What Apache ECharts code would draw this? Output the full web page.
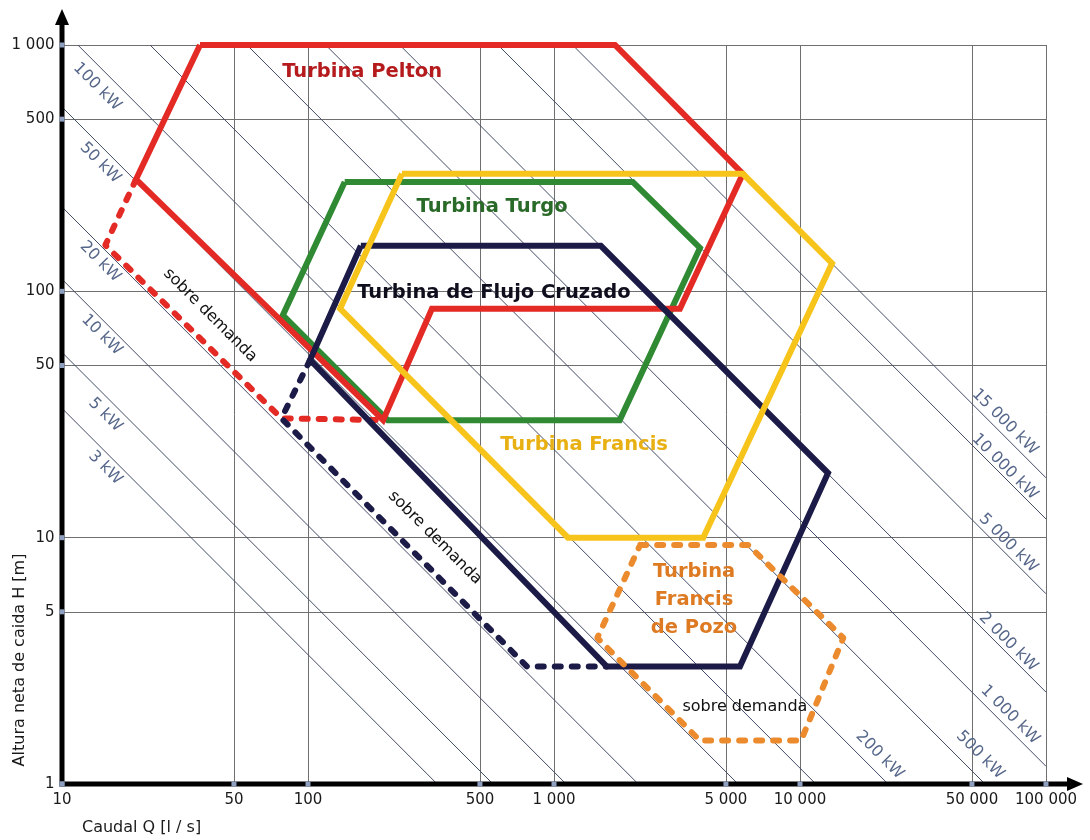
<!DOCTYPE html>
<html>
<head>
<meta charset="utf-8">
<script src="https://cdn.jsdelivr.net/npm/echarts@6/dist/echarts.min.js"></script>
<style>
  html, body { margin: 0; padding: 0; background: #fff; }
  #chart { width: 1090px; height: 840px; }
</style>
</head>
<body>
<div id="chart"></div>
<script>
// Application ranges of small hydro turbines: flow Q (l/s) against net head H (m), log-log scales.
const xTicks = [10, 50, 100, 500, 1000, 5000, 10000, 50000, 100000];
const yTicks = [1, 5, 10, 50, 100, 500, 1000];

// Constant-power lines and their Q·H product (l/s · m)
const powerLabels = ['3 kW', '5 kW', '10 kW', '20 kW', '50 kW', '100 kW', '200 kW', '500 kW',
  '1 000 kW', '2 000 kW', '5 000 kW', '10 000 kW', '15 000 kW'];
const powerQH = [335, 565, 1120, 2200, 5600, 11600, 22800, 56500, 118000, 236000, 592000, 1190000, 1750000];
// [Q, H] where each power label is written
const powerLabelAt = [[15, 19.2], [15, 31.5], [14.5, 66.5], [14.3, 132], [14.3, 332], [13.9, 676],
  [21100, 1.31], [54000, 1.31], [71400, 1.91], [70200, 3.77], [70200, 9.5], [68000, 19.4], [68000, 29.5]];

// Turbine ranges, [Q, H] vertices
const pelton = [[36.4, 1000], [1770, 1000], [5860, 300], [3250, 85], [319, 85], [202, 30], [20, 285], [36.4, 1000]];
const peltonOnDemand = [[20, 285], [15, 154], [78, 30.5], [202, 30]];
const turgo = [[141, 278], [2090, 278], [3920, 150], [1850, 30], [211, 30], [79, 80], [141, 278]];
const francis = [[241, 300], [5860, 300], [13500, 130], [4040, 10], [1140, 10], [135, 85], [241, 300]];
const crossFlow = [[164, 153], [1550, 153], [13000, 18.3], [5700, 3], [1640, 3], [102, 52.7], [164, 153]];
const crossFlowOnDemand = [[102, 52.7], [78, 30.5], [776, 3], [1640, 3]];
const francisPit = [[2240, 9.34], [6150, 9.34], [15000, 3.92], [10100, 1.5], [3920, 1.5], [1500, 3.92], [2240, 9.34]];

const turbineNames = ['Turbina Pelton', 'Turbina Turgo', 'Turbina de Flujo Cruzado', 'Turbina Francis', 'Turbina\nFrancis\nde Pozo'];
const turbineNameAt = [[166, 778], [560, 220], [570, 98.5], [1325, 23.8], [3710, 5.59]];
const onDemandText = 'sobre demanda';
const onDemandAt = [[40, 80], [328, 10], [5970, 2.05]];

const xAxisTitle = 'Caudal Q [l / s]';
const yAxisTitle = 'Altura neta de caida H [m]';

const X_MIN = 10, X_MAX = 100000, Y_MIN = 1, Y_MAX = 1000;
const FONT = '"DejaVu Sans", "Liberation Sans", sans-serif';
const fmt = v => String(v).replace(/\B(?=(\d{3})+(?!\d))/g, ' ');

const COLORS = {
  red: '#e42a25', redText: '#b51b1d',
  green: '#2f8a33', greenText: '#2a6a28',
  yellow: '#f7c41c', yellowText: '#e8b012',
  navy: '#1c1b47', navyText: '#0e0e1c',
  orange: '#ec8b2d', orangeText: '#dd7a22',
  grid: '#6f6f6f', power: '#434c66', powerText: '#56678a', tick: '#8e9fbf'
};

const chart = echarts.init(document.getElementById('chart'), null, { renderer: 'canvas' });

function gridLineData() {
  const v = xTicks.map(x => ({ coords: [[x, Y_MIN], [x, Y_MAX]] }));
  const h = yTicks.map(y => ({ coords: [[X_MIN, y], [X_MAX, y]] }));
  return v.concat(h);
}

// A line of constant Q·H, clipped to the plotted range
function powerLineData() {
  return powerQH.map(qh => {
    const q0 = Math.max(X_MIN, qh / Y_MAX);
    const q1 = Math.min(X_MAX, qh / Y_MIN);
    return { coords: [[q0, qh / q0], [q1, qh / q1]] };
  });
}

function outline(name, data, color, dashed, z) {
  return {
    type: 'line', name, data, z, silent: true, animation: false, clip: false,
    symbol: 'none', showSymbol: false,
    lineStyle: {
      color, width: 6,
      type: dashed ? [6, 11] : 'solid',
      cap: dashed ? 'round' : 'butt',
      join: dashed ? 'round' : 'miter'
    }
  };
}

// Text-only scatter layer
function textLayer(data, label, z) {
  return {
    type: 'scatter', symbolSize: 0, silent: true, clip: false, z, animation: false,
    itemStyle: { opacity: 1 },
    label: Object.assign({ show: true, position: 'inside', align: 'center', verticalAlign: 'middle', opacity: 1 }, label),
    data
  };
}

const nameColors = [COLORS.redText, COLORS.greenText, COLORS.navyText, COLORS.yellowText, COLORS.orangeText];

const option = {
  backgroundColor: '#ffffff',
  animation: false,
  grid: { left: 62, right: 44, top: 45, bottom: 56, containLabel: false },
  xAxis: {
    type: 'log', logBase: 10, min: X_MIN, max: X_MAX,
    axisLine: { show: false }, axisTick: { show: false }, axisLabel: { show: false }, splitLine: { show: false }
  },
  yAxis: {
    type: 'log', logBase: 10, min: Y_MIN, max: Y_MAX,
    axisLine: { show: false }, axisTick: { show: false }, axisLabel: { show: false }, splitLine: { show: false }
  },
  series: [
    {
      type: 'lines', coordinateSystem: 'cartesian2d', silent: true, z: 1, animation: false,
      lineStyle: { color: COLORS.grid, width: 1, opacity: 1 },
      data: gridLineData()
    },
    {
      type: 'lines', coordinateSystem: 'cartesian2d', silent: true, z: 1, animation: false,
      lineStyle: { color: COLORS.power, width: 1, opacity: 1 },
      data: powerLineData()
    },
    outline('Turbina Turgo', turgo, COLORS.green, false, 3),
    outline('Turbina Pelton', pelton, COLORS.red, false, 4),
    outline('Pelton sobre demanda', peltonOnDemand, COLORS.red, true, 4),
    outline('Turbina de Flujo Cruzado', crossFlow, COLORS.navy, false, 5),
    outline('Flujo Cruzado sobre demanda', crossFlowOnDemand, COLORS.navy, true, 5),
    outline('Turbina Francis', francis, COLORS.yellow, false, 6),
    outline('Turbina Francis de Pozo', francisPit, COLORS.orange, true, 7),
    // power labels
    textLayer(
      powerLabels.map((t, i) => ({ value: powerLabelAt[i], label: { formatter: t } })),
      { rotate: -45, fontFamily: FONT, fontSize: 16, color: COLORS.powerText }, 8),
    // turbine names
    textLayer(
      turbineNames.map((t, i) => ({ value: turbineNameAt[i], label: { formatter: t, color: nameColors[i] } })),
      { fontFamily: FONT, fontSize: 19.5, fontWeight: 'bold', lineHeight: 28 }, 9),
    // "sobre demanda" notes
    textLayer(
      onDemandAt.map((p, i) => ({ value: p, label: { formatter: onDemandText, rotate: i < 2 ? -45 : 0 } })),
      { fontFamily: FONT, fontSize: 16, color: '#111' }, 9),
    // x tick marks and labels
    {
      type: 'scatter', symbol: 'rect', symbolSize: 5, silent: true, clip: false, z: 20, animation: false,
      itemStyle: { color: COLORS.tick, opacity: 1 },
      label: { show: true, position: 'bottom', distance: 6, fontFamily: FONT, fontSize: 15, color: '#1a1a1a',
        formatter: p => fmt(p.value[0]) },
      data: xTicks.map(x => [x, Y_MIN])
    },
    // y tick marks and labels
    {
      type: 'scatter', symbol: 'rect', symbolSize: 5, silent: true, clip: false, z: 20, animation: false,
      itemStyle: { color: COLORS.tick, opacity: 1 },
      label: { show: true, position: 'left', distance: 5, fontFamily: FONT, fontSize: 15, color: '#1a1a1a',
        formatter: p => fmt(p.value[1]) },
      data: yTicks.map(y => [X_MIN, y])
    }
  ]
};

chart.setOption(option);

// Axis lines with arrowheads and axis titles, placed from the axis scales
const originPx = chart.convertToPixel({ gridIndex: 0 }, [X_MIN, Y_MIN]);
const cornerPx = chart.convertToPixel({ gridIndex: 0 }, [X_MAX, Y_MAX]);
const ox = originPx[0], oy = originPx[1], plotRight = cornerPx[0], plotTop = cornerPx[1];

chart.setOption({
  graphic: [
    { type: 'line', z: 10, silent: true, shape: { x1: ox, y1: oy + 2.5, x2: ox, y2: plotTop - 22 },
      style: { stroke: '#000', lineWidth: 5 } },
    { type: 'polygon', z: 10, silent: true, shape: { points: [[ox - 7, plotTop - 20], [ox, plotTop - 36], [ox + 7, plotTop - 20]] },
      style: { fill: '#000' } },
    { type: 'line', z: 10, silent: true, shape: { x1: ox - 2.5, y1: oy, x2: plotRight + 24, y2: oy },
      style: { stroke: '#000', lineWidth: 5 } },
    { type: 'polygon', z: 10, silent: true, shape: { points: [[plotRight + 21, oy - 7], [plotRight + 37, oy], [plotRight + 21, oy + 7]] },
      style: { fill: '#000' } },
    { type: 'text', z: 10, silent: true, x: ox + 20, y: oy + 44,
      style: { text: xAxisTitle, fontFamily: FONT, fontSize: 16, fill: '#1a1a1a', align: 'left', verticalAlign: 'middle' } },
    { type: 'text', z: 10, silent: true, x: ox - 42, y: oy - 124, rotation: Math.PI / 2,
      style: { text: yAxisTitle, fontFamily: FONT, fontSize: 16, fill: '#1a1a1a', align: 'center', verticalAlign: 'middle' } }
  ]
});
</script>
</body>
</html>
